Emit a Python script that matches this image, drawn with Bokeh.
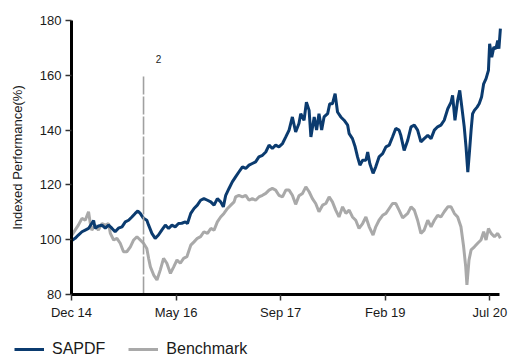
from bokeh.plotting import figure
from bokeh.models import Range1d, FixedTicker, Legend, LegendItem, ColumnDataSource
from bokeh.core.properties import value
from bokeh.embed import file_html
from bokeh.resources import INLINE

# Trading-day index since Dec 2014, and indexed performance (start = 100)
sapdf_day = [0, 12, 23, 35, 46, 57, 74, 79, 90, 102, 113, 124, 135, 146, 157, 169, 180, 191,
             202, 213, 222, 230, 241, 252, 258, 269, 280, 291, 302, 314, 325, 336, 347, 358,
             369, 381, 388, 399, 410, 421, 432, 443, 455, 466, 477, 488, 499, 508, 516, 527,
             538, 549, 560, 572, 583, 594, 605, 616, 627, 639, 650, 661, 672, 683, 694, 706,
             717, 728, 739, 750, 761, 767, 778, 786, 795, 801, 812, 820, 828, 837, 845, 857,
             864, 873, 882, 890, 901, 912, 924, 929, 940, 949, 957, 965, 974, 985, 991, 998,
             1009, 1018, 1029, 1041, 1052, 1063, 1074, 1085, 1096, 1102, 1113, 1125, 1136,
             1147, 1158, 1169, 1180, 1192, 1203, 1214, 1225, 1236, 1247, 1259, 1270, 1275,
             1283, 1292, 1299, 1306, 1314, 1320, 1326, 1331, 1337, 1342, 1348, 1357, 1364,
             1372, 1379, 1387, 1395, 1399, 1406, 1413, 1420, 1426, 1430, 1435]
sapdf_val = [99.6, 100.5, 101.7, 102.9, 103.5, 104.1, 107.0, 104.2, 105.0, 105.3, 104.2, 105.3,
             104.2, 102.9, 104.2, 104.7, 106.5, 107.1, 108.3, 109.6, 110.5, 109.6, 107.8,
             107.1, 105.3, 102.3, 100.5, 101.7, 103.5, 105.3, 104.1, 105.3, 104.7, 105.9,
             106.0, 106.5, 105.9, 109.6, 111.4, 112.6, 114.4, 115.0, 114.4, 113.8, 112.6,
             115.0, 113.8, 112.0, 116.2, 118.7, 121.1, 122.9, 124.7, 126.6, 126.0, 127.2,
             127.8, 128.4, 130.2, 130.8, 132.0, 134.5, 133.3, 134.5, 133.9, 135.1, 137.5,
             140.0, 144.8, 139.3, 142.4, 146.0, 143.6, 150.2, 147.2, 137.5, 144.8, 140.0,
             146.0, 140.0, 144.8, 146.0, 149.6, 149.6, 153.3, 146.6, 144.8, 143.6, 141.8,
             138.7, 136.9, 133.9, 130.2, 127.2, 129.0, 129.0, 132.0, 127.8, 124.2, 126.6,
             130.2, 131.4, 133.9, 134.5, 137.5, 140.6, 140.0, 138.0, 132.6, 136.3, 141.2,
             141.8, 140.0, 135.7, 136.9, 138.1, 136.9, 140.0, 141.2, 141.8, 143.6, 147.8,
             150.2, 152.7, 143.6, 150.9, 154.5, 148.4, 141.2, 133.9, 124.7, 131.4, 140.0,
             146.0, 147.2, 148.4, 149.6, 152.1, 156.9, 158.8, 161.8, 171.5, 166.6, 170.3,
             169.7, 172.7, 169.7, 177.0]

bench_day = [0, 12, 23, 35, 46, 57, 63, 68, 79, 90, 102, 113, 124, 130, 141, 152, 163, 174,
             185, 197, 208, 219, 230, 241, 252, 258, 264, 275, 286, 297, 308, 319, 331, 342,
             353, 364, 375, 386, 399, 410, 421, 432, 443, 455, 466, 477, 488, 499, 510, 522,
             533, 544, 549, 560, 572, 583, 594, 605, 616, 627, 639, 650, 661, 672, 683, 694,
             706, 717, 728, 739, 750, 761, 773, 784, 795, 806, 817, 828, 840, 851, 862, 873,
             884, 895, 907, 918, 929, 940, 951, 962, 974, 985, 996, 1009, 1018, 1029, 1041,
             1052, 1063, 1074, 1085, 1096, 1108, 1125, 1136, 1147, 1158, 1169, 1180, 1192,
             1203, 1214, 1225, 1236, 1247, 1259, 1270, 1281, 1292, 1303, 1312, 1319, 1323,
             1330, 1337, 1348, 1359, 1370, 1379, 1387, 1395, 1404, 1415, 1426, 1435]
bench_val = [101.5, 103.5, 105.3, 107.8, 107.1, 110.2, 105.9, 103.5, 105.3, 103.5, 105.9, 105.3,
             105.9, 102.3, 99.9, 100.5, 98.7, 95.6, 95.6, 97.4, 99.9, 101.1, 99.9, 98.7, 96.8,
             93.2, 90.1, 87.1, 85.3, 88.9, 93.2, 91.4, 87.7, 90.1, 92.6, 91.4, 93.2, 93.8,
             98.0, 99.2, 100.5, 101.1, 102.9, 102.3, 104.1, 103.5, 106.5, 108.3, 109.6, 111.4,
             112.6, 113.8, 115.6, 116.2, 115.6, 116.2, 114.4, 115.0, 114.4, 115.6, 116.2,
             116.9, 118.1, 118.7, 118.1, 116.2, 115.6, 118.1, 118.1, 116.2, 112.9, 116.0,
             116.9, 119.3, 117.5, 115.0, 113.2, 110.2, 112.6, 113.2, 115.6, 113.8, 110.8,
             108.3, 112.0, 109.6, 110.8, 108.3, 107.1, 104.1, 105.9, 108.3, 104.7, 101.7,
             104.7, 107.1, 108.9, 109.6, 111.4, 113.2, 113.2, 110.8, 108.0, 109.6, 112.0,
             110.8, 107.1, 102.3, 103.5, 107.1, 104.7, 107.1, 108.9, 108.3, 110.2, 112.0,
             112.0, 109.6, 108.3, 104.7, 97.4, 90.1, 83.5, 92.6, 96.3, 97.4, 98.7, 99.9,
             102.9, 99.9, 104.1, 102.3, 101.1, 102.3, 100.5]

x_tick_days = [0, 350, 700, 1050, 1400]
x_tick_labels = ["Dec 14", "May 16", "Sep 17", "Feb 19", "Jul 20"]
y_ticks = [80, 100, 120, 140, 160, 180]

# Event marker
event_day = [241]
event_top = [160]
event_label = ["2"]
event_label_day = [291]
event_label_val = [165.8]

SAPDF_COLOR = "#0b3b6f"
BENCH_COLOR = "#a9a9a9"
FONT = "Liberation Sans"

# Canvas and the plotting box inside it (pixels); the axes are pinned to the box
# so the legend can sit in the free strip under the chart.
W, H = 508, 358
BOX_L, BOX_R, BOX_T, BOX_B = 71, 499, 20, 294
X0, X1 = 0, 1432
Y0, Y1 = 80, 180
dx = (X1 - X0) / (BOX_R - BOX_L)
dy = (Y1 - Y0) / (BOX_B - BOX_T)
x_range = Range1d(X0 - BOX_L * dx, X1 + (W - BOX_R) * dx)
y_range = Range1d(Y0 - (H - BOX_B) * dy, Y1 + BOX_T * dy)

p = figure(width=W, height=H, output_backend="svg", toolbar_location=None,
           x_range=x_range, y_range=y_range, min_border=0,
           min_border_left=0, min_border_right=0, min_border_top=0, min_border_bottom=0)
p.outline_line_color = None
p.grid.grid_line_color = None
p.background_fill_color = "white"

r_bench = p.line(bench_day, bench_val, line_color=BENCH_COLOR, line_width=3)
r_sapdf = p.line(sapdf_day, sapdf_val, line_color=SAPDF_COLOR, line_width=3)

ev = ColumnDataSource(dict(x=event_day, y0=[Y0], y1=event_top))
p.segment(x0="x", y0="y0", x1="x", y1="y1", source=ev, line_color="#a0a0a0",
          line_width=1.6, line_dash="18 2")
p.text(x=event_label_day, y=event_label_val, text=event_label, text_font=value(FONT),
       text_font_size="10px", text_align="center", text_baseline="middle", text_color="#222222")

for ax in (p.xaxis[0], p.yaxis[0]):
    ax.axis_line_width = 3
    ax.axis_line_color = "black"
    ax.major_tick_line_color = "#333333"
    ax.major_tick_line_width = 1.5
    ax.major_tick_out = 6
    ax.major_tick_in = 0
    ax.minor_tick_line_color = None
    ax.major_label_text_font = FONT
    ax.major_label_text_font_size = "13px"
    ax.major_label_text_color = "#1a1a1a"
    ax.major_label_standoff = 4

p.xaxis.fixed_location = Y0
p.xaxis.bounds = (X0, X1)
p.xaxis.ticker = FixedTicker(ticks=x_tick_days)
p.xaxis.major_label_overrides = dict(zip(x_tick_days, x_tick_labels))

p.yaxis.fixed_location = X0
p.yaxis.bounds = (Y0, Y1)
p.yaxis.ticker = FixedTicker(ticks=y_ticks)
p.yaxis.axis_label = "Indexed Performance(%)"
p.yaxis.axis_label_text_font = FONT
p.yaxis.axis_label_text_font_size = "13px"
p.yaxis.axis_label_text_font_style = "normal"
p.yaxis.axis_label_text_color = "#1a1a1a"
p.yaxis.axis_label_standoff = 12

legend = Legend(items=[LegendItem(label="SAPDF", renderers=[r_sapdf]),
                       LegendItem(label="Benchmark", renderers=[r_bench])],
                orientation="horizontal", location=(14, -1), padding=0, margin=0,
                spacing=23, label_standoff=8, glyph_width=30, glyph_height=20,
                label_text_font=FONT, label_text_font_size="16px", label_text_color="#1a1a1a",
                border_line_alpha=0, background_fill_alpha=0)
p.add_layout(legend)

open("out.html", "w").write(file_html(p, INLINE))
